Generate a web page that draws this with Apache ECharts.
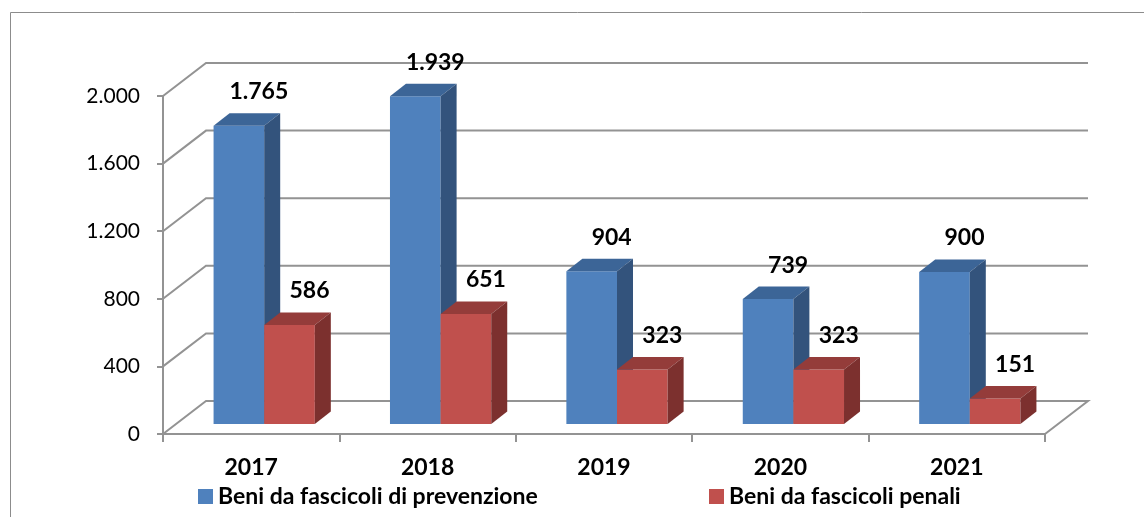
<!DOCTYPE html>
<html>
<head>
<meta charset="utf-8">
<script src="https://cdn.jsdelivr.net/npm/echarts@6/dist/echarts.min.js"></script>
<style>
html,body{margin:0;padding:0;background:#fff;}
#chart{width:1144px;height:517px;}
</style>
</head>
<body>
<div id="chart"></div>
<script>
// ---- data ----
var categories = ['2017', '2018', '2019', '2020', '2021'];
var seriesNames = ['Beni da fascicoli di prevenzione', 'Beni da fascicoli penali'];
var prevenzione = [1765, 1939, 904, 739, 900];
var penali = [586, 651, 323, 323, 151];
var yTicks = [0, 400, 800, 1200, 1600, 2000];

// ---- style constants ----
var FONT = 'Lato, "Open Sans", sans-serif';
var WALL_DX = 43, WALL_DY = 33;      // depth of the 3D box
var BAR_SX = 13, BAR_SY = 10;        // bar front plane offset
var BAR_DX = 16, BAR_DY = 12.5;      // bar depth
var BAR_FRAC = 0.287;                // bar width / band width
var GRID_COLOR = '#939393';
var palette = [
  {front: '#4f81bd', top: '#3c6597', side: '#33537c'},
  {front: '#c0504d', top: '#943c3a', side: '#7c302e'}
];

function fmt(v) {
  return String(v).replace(/\B(?=(\d{3})+(?!\d))/g, '.');
}

function barRender(sIdx) {
  return function (params, api) {
    var i = api.value(0), v = api.value(1);
    var base = api.coord([i, 0]);
    var topP = api.coord([i, v]);
    var band = api.size([1, 0])[0];
    var w = band * BAR_FRAC;
    var cx = base[0];
    var L = (sIdx === 0 ? cx - w : cx) + BAR_SX;
    var R = L + w;
    var B = base[1] - BAR_SY;
    var T = topP[1] - BAR_SY;
    var c = palette[sIdx];
    return {
      type: 'group',
      children: [
        {type: 'polygon', shape: {points: [[L, B], [R, B], [R, T], [L, T]]}, style: {fill: c.front}},
        {type: 'polygon', shape: {points: [[L, T], [R, T], [R + BAR_DX, T - BAR_DY], [L + BAR_DX, T - BAR_DY]]}, style: {fill: c.top}},
        {type: 'polygon', shape: {points: [[R, T], [R + BAR_DX, T - BAR_DY], [R + BAR_DX, B - BAR_DY], [R, B]]}, style: {fill: c.side}},
        {type: 'text', z2: 10, style: {text: fmt(v), x: (L + R) / 2 + 20, y: T - 34, align: 'center', verticalAlign: 'middle',
          font: 'bold 23px ' + FONT, fill: '#000'}}
      ]
    };
  };
}

function wallRender(params, api) {
  var cs = params.coordSys;
  var v = api.value(1);
  var y = api.coord([0, v])[1];
  var x0 = cs.x, x1 = cs.x + cs.width;
  var lineStyle = {stroke: GRID_COLOR, lineWidth: 2, fill: null};
  var pts = [[x0, y], [x0 + WALL_DX, y - WALL_DY], [x1 + WALL_DX, y - WALL_DY]];
  if (v === 0) pts.push([x1, y]);
  return {type: 'polyline', shape: {points: pts}, style: lineStyle};
}

var legendText = {fontFamily: FONT, fontWeight: 'bold', fontSize: 23, color: '#000'};

var chart = echarts.init(document.getElementById('chart'), null, {renderer: 'canvas'});
chart.setOption({
  animation: false,
  backgroundColor: '#fff',
  color: [palette[0].front, palette[1].front, GRID_COLOR],
  graphic: [{
    type: 'rect', silent: true, z: -10,
    shape: {x: 10.5, y: 12.5, width: 1300, height: 700},
    style: {fill: null, stroke: '#8c8c8c', lineWidth: 1}
  }],
  grid: {left: 163, right: 99, top: 96, bottom: 83, containLabel: false},
  legend: [
    {data: [seriesNames[0]], left: 198, top: 485, padding: 0, itemWidth: 15, itemHeight: 15, itemGap: 0, icon: 'rect',
      textStyle: legendText},
    {data: [seriesNames[1]], left: 709, top: 485, padding: 0, itemWidth: 15, itemHeight: 15, itemGap: 0, icon: 'rect',
      textStyle: legendText}
  ],
  xAxis: {
    type: 'category', data: categories, boundaryGap: true,
    axisLine: {show: true, lineStyle: {color: GRID_COLOR, width: 2}},
    axisTick: {show: true, length: 8, lineStyle: {color: GRID_COLOR, width: 2}},
    axisLabel: {fontFamily: FONT, fontWeight: 'bold', fontSize: 23, color: '#000', margin: 22},
    splitLine: {show: false}
  },
  yAxis: {
    type: 'value', min: 0, max: 2000, interval: 400,
    axisLine: {show: true, lineStyle: {color: GRID_COLOR, width: 2}},
    axisTick: {show: true, length: 6, lineStyle: {color: GRID_COLOR, width: 2}},
    axisLabel: {fontFamily: FONT, fontSize: 21, color: '#000', margin: 23, formatter: fmt},
    splitLine: {show: false}
  },
  series: [
    {type: 'custom', name: 'wall', z: 1, silent: true, renderItem: wallRender,
      data: yTicks.map(function (t) { return [0, t]; }), itemStyle: {color: GRID_COLOR}},
    {type: 'custom', name: seriesNames[0], z: 3, renderItem: barRender(0), itemStyle: {color: palette[0].front},
      data: prevenzione.map(function (v, i) { return [i, v]; })},
    {type: 'custom', name: seriesNames[1], z: 4, renderItem: barRender(1), itemStyle: {color: palette[1].front},
      data: penali.map(function (v, i) { return [i, v]; })}
  ]
});
</script>
</body>
</html>
